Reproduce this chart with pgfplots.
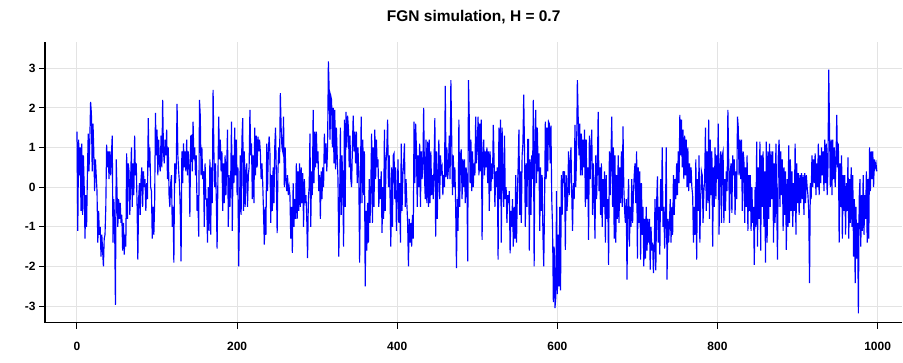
\documentclass[border=0pt]{standalone}
\usepackage{fontspec}
\setmainfont{Liberation Sans}
\usepackage{pgfplots}
\usepackage{pgfplotstable}
\pgfplotsset{compat=1.18}

% Fractional Gaussian noise sample path, one value per time step (t = 0 ... 999)
\pgfplotstableread[row sep=\\]{
v \\
1.4 \\ -1.1 \\ 1.2 \\ 0.3 \\ 1.0 \\ -0.6 \\ 1.1 \\ -0.7 \\ 0.8 \\ 0.0 \\
-1.3 \\ -0.2 \\ -1.0 \\ 0.3 \\ 1.35 \\ 0.4 \\ 1.2 \\ 2.15 \\ 1.85 \\ 0.4 \\
1.6 \\ 0.9 \\ -0.1 \\ 0.7 \\ 0.3 \\ -0.1 \\ -1.4 \\ -0.6 \\ -1.2 \\ -1.0 \\
-1.75 \\ -1.2 \\ -1.6 \\ -2.0 \\ -1.3 \\ -1.2 \\ -0.5 \\ 1.07 \\ 0.5 \\ 0.9 \\
0.2 \\ 0.9 \\ 0.3 \\ 0.8 \\ 1.3 \\ -1.4 \\ -0.3 \\ -0.9 \\ -2.97 \\ 0.7 \\
-0.1 \\ -1.0 \\ -0.3 \\ -0.8 \\ -0.4 \\ -0.9 \\ -0.7 \\ -1.6 \\ -0.9 \\ -1.7 \\
-1.2 \\ -1.5 \\ 0.85 \\ -0.8 \\ 0.6 \\ 0.4 \\ -0.7 \\ 0.2 \\ 1.0 \\ -0.5 \\
0.6 \\ -0.2 \\ 1.3 \\ 0.3 \\ 0.6 \\ -0.4 \\ -1.83 \\ -0.3 \\ 0.1 \\ -0.7 \\
0.2 \\ 0.5 \\ -0.5 \\ 0.4 \\ 0.0 \\ 0.2 \\ -0.6 \\ 0.1 \\ -0.3 \\ 1.74 \\
0.5 \\ 1.0 \\ 0.0 \\ -0.1 \\ -1.3 \\ -0.5 \\ -1.2 \\ -0.4 \\ 1.87 \\ 0.8 \\
1.45 \\ 0.3 \\ 1.2 \\ 0.6 \\ 0.4 \\ 1.3 \\ 0.5 \\ 2.2 \\ 0.9 \\ 0.6 \\
1.2 \\ 0.8 \\ 1.45 \\ 0.2 \\ 1.0 \\ -0.2 \\ -0.5 \\ 0.1 \\ 0.3 \\ -1.0 \\
-0.5 \\ -1.9 \\ 0.6 \\ 0.1 \\ 0.5 \\ 2.1 \\ 0.8 \\ 0.4 \\ 0.1 \\ -0.6 \\
-1.87 \\ 0.9 \\ 0.1 \\ 1.1 \\ 0.5 \\ 0.9 \\ 0.4 \\ 1.2 \\ 0.3 \\ 0.9 \\
0.5 \\ -0.75 \\ 1.28 \\ 1.3 \\ 0.4 \\ 1.65 \\ 0.7 \\ 1.0 \\ 0.3 \\ 0.8 \\
-0.6 \\ -0.2 \\ -1.25 \\ 2.2 \\ 1.8 \\ 0.3 \\ 1.0 \\ 0.2 \\ 0.4 \\ -1.0 \\
0.6 \\ -0.3 \\ -0.3 \\ -1.4 \\ 0.0 \\ -1.1 \\ 0.7 \\ -1.2 \\ 0.5 \\ -0.4 \\
2.45 \\ 0.9 \\ 0.0 \\ 0.6 \\ -0.3 \\ -1.55 \\ 0.2 \\ 1.78 \\ 0.7 \\ 1.2 \\
0.4 \\ 0.9 \\ -0.6 \\ 0.6 \\ -0.4 \\ 0.8 \\ -0.2 \\ 0.5 \\ 1.45 \\ -1.0 \\
0.3 \\ -0.5 \\ 0.2 \\ 1.65 \\ -1.1 \\ 0.8 \\ 0.1 \\ 1.5 \\ 0.3 \\ 1.2 \\
-0.2 \\ 0.5 \\ -2.0 \\ -0.5 \\ 0.8 \\ -0.7 \\ 1.2 \\ 1.74 \\ -0.6 \\ 0.9 \\
-0.5 \\ 0.4 \\ 0.6 \\ -0.5 \\ 0.3 \\ 0.5 \\ 1.95 \\ 0.8 \\ 1.1 \\ -0.3 \\
0.8 \\ -0.4 \\ 1.5 \\ 0.3 \\ 1.3 \\ 0.5 \\ 1.27 \\ 0.9 \\ 1.2 \\ 0.9 \\
0.2 \\ 0.6 \\ 0.1 \\ -0.65 \\ -1.45 \\ -0.5 \\ -1.2 \\ 1.1 \\ -0.1 \\ 0.9 \\
1.28 \\ 0.85 \\ -0.9 \\ 0.3 \\ -0.6 \\ 0.5 \\ -0.4 \\ 1.0 \\ 1.5 \\ 0.3 \\
-1.16 \\ 0.4 \\ 1.0 \\ 0.6 \\ 2.37 \\ 1.5 \\ 1.0 \\ 0.9 \\ 1.78 \\ 0.0 \\
1.0 \\ 0.2 \\ -0.1 \\ 0.3 \\ -0.2 \\ 0.0 \\ -0.2 \\ -1.3 \\ -0.5 \\ -1.66 \\
0.1 \\ -1.0 \\ -0.3 \\ -0.8 \\ 0.6 \\ -0.8 \\ 0.4 \\ -0.6 \\ 0.6 \\ -0.5 \\
0.5 \\ -0.4 \\ 0.35 \\ -1.0 \\ 0.2 \\ -0.4 \\ -0.2 \\ -0.8 \\ -1.79 \\ -0.3 \\
0.0 \\ 1.35 \\ -1.0 \\ 0.4 \\ -0.2 \\ 1.95 \\ 0.1 \\ 1.4 \\ 0.5 \\ 1.4 \\
0.6 \\ 0.9 \\ -0.1 \\ 0.3 \\ -0.8 \\ 0.4 \\ -0.3 \\ 0.5 \\ 0.0 \\ 1.35 \\
0.6 \\ 1.1 \\ 0.4 \\ 1.0 \\ 3.17 \\ 2.45 \\ 1.2 \\ 2.3 \\ 2.2 \\ 1.0 \\
2.0 \\ 0.6 \\ 1.95 \\ 0.45 \\ 1.5 \\ 0.8 \\ 0.2 \\ -1.75 \\ -0.5 \\ 1.5 \\
-0.7 \\ 0.8 \\ 0.1 \\ -1.5 \\ 1.7 \\ -0.5 \\ 1.9 \\ 1.0 \\ 1.8 \\ 1.5 \\
0.5 \\ 1.3 \\ 0.2 \\ 0.0 \\ 1.0 \\ 1.8 \\ 0.9 \\ 1.4 \\ 0.6 \\ 1.4 \\
0.1 \\ 1.0 \\ 0.3 \\ -1.9 \\ 0.2 \\ 1.78 \\ -0.4 \\ 1.2 \\ -0.2 \\ 0.9 \\
-2.5 \\ -0.6 \\ -1.6 \\ -0.4 \\ -1.4 \\ 0.2 \\ -0.9 \\ 0.0 \\ 1.35 \\ -0.9 \\
1.0 \\ -0.5 \\ 1.45 \\ 0.2 \\ 1.2 \\ 0.5 \\ 0.7 \\ -0.5 \\ 0.2 \\ -0.3 \\
0.4 \\ -1.15 \\ 0.0 \\ -0.8 \\ 1.45 \\ -0.6 \\ 0.6 \\ 1.0 \\ 1.7 \\ 0.0 \\
0.8 \\ -0.2 \\ -1.5 \\ 0.5 \\ -1.0 \\ 0.8 \\ 0.85 \\ -0.3 \\ 0.5 \\ -1.1 \\
-0.2 \\ 0.7 \\ -0.9 \\ 0.1 \\ -1.4 \\ 1.1 \\ -0.6 \\ 0.3 \\ 0.6 \\ 1.1 \\
-0.5 \\ 0.2 \\ -0.4 \\ -0.9 \\ -2.0 \\ -0.8 \\ -1.4 \\ -0.9 \\ -1.5 \\ -0.7 \\
-1.3 \\ 1.65 \\ 0.1 \\ 1.6 \\ 0.95 \\ -0.5 \\ 0.8 \\ 0.0 \\ 1.1 \\ -0.5 \\
0.9 \\ 0.2 \\ 0.5 \\ 2.0 \\ 0.3 \\ -0.3 \\ 1.2 \\ -0.4 \\ 1.15 \\ -0.5 \\
1.2 \\ -0.4 \\ 0.9 \\ -0.2 \\ 0.3 \\ -0.3 \\ 0.6 \\ 1.74 \\ -1.25 \\ 0.9 \\
-0.8 \\ 0.3 \\ 1.2 \\ -0.3 \\ 0.8 \\ 0.4 \\ 0.5 \\ -0.2 \\ 0.3 \\ 0.0 \\
2.55 \\ 0.25 \\ 1.0 \\ 0.2 \\ 0.5 \\ 1.3 \\ 0.2 \\ 2.7 \\ 1.3 \\ -0.2 \\
0.8 \\ 0.0 \\ 0.5 \\ -0.5 \\ -2.04 \\ -0.3 \\ -1.1 \\ 1.7 \\ -0.5 \\ 0.8 \\
0.95 \\ -0.3 \\ 0.7 \\ 0.0 \\ 0.7 \\ -0.4 \\ 0.5 \\ 0.2 \\ -1.87 \\ 2.7 \\
1.7 \\ 0.1 \\ 1.2 \\ -0.1 \\ 0.9 \\ 0.0 \\ 0.6 \\ 0.3 \\ 1.78 \\ 0.6 \\
1.0 \\ 1.78 \\ 0.3 \\ 1.6 \\ 0.4 \\ 1.7 \\ -1.33 \\ 0.8 \\ 1.2 \\ 0.3 \\
0.9 \\ 0.5 \\ 1.0 \\ 0.1 \\ 0.9 \\ -0.6 \\ 0.9 \\ -0.1 \\ 0.6 \\ 0.2 \\
1.57 \\ 0.65 \\ -0.5 \\ 0.4 \\ 0.0 \\ 0.5 \\ -1.83 \\ 1.5 \\ -0.3 \\ 1.7 \\
-1.4 \\ 1.5 \\ 0.2 \\ -0.5 \\ 1.3 \\ -0.3 \\ 0.0 \\ -0.9 \\ -0.2 \\ -0.4 \\
-0.1 \\ -1.67 \\ -0.6 \\ -1.0 \\ -0.3 \\ -1.5 \\ -0.5 \\ -1.3 \\ 0.3 \\ -1.4 \\
-0.2 \\ 0.5 \\ 1.45 \\ -0.7 \\ 0.4 \\ -0.9 \\ 0.8 \\ 1.1 \\ 2.33 \\ 0.9 \\
-1.0 \\ 0.6 \\ -0.5 \\ 1.2 \\ 1.2 \\ -1.6 \\ 0.7 \\ -0.7 \\ 0.8 \\ 0.2 \\
2.2 \\ -2.0 \\ 1.0 \\ 1.95 \\ 0.1 \\ 1.5 \\ 0.4 \\ 0.85 \\ -1.1 \\ 0.5 \\
-0.6 \\ 0.3 \\ -1.2 \\ -2.0 \\ -0.5 \\ 1.65 \\ 0.2 \\ 1.5 \\ 0.4 \\ 1.65 \\
1.6 \\ 0.6 \\ 1.55 \\ -0.3 \\ -1.0 \\ -2.9 \\ -1.5 \\ -3.05 \\ -2.8 \\ -0.1 \\
-2.7 \\ -1.2 \\ -2.5 \\ -0.5 \\ -2.6 \\ 0.3 \\ -0.7 \\ 0.4 \\ 0.1 \\ 0.4 \\
-1.58 \\ 0.3 \\ -0.6 \\ -0.2 \\ 0.9 \\ -0.2 \\ 0.6 \\ 1.0 \\ -0.2 \\ -1.1 \\
0.1 \\ -0.3 \\ 1.57 \\ 0.0 \\ 0.8 \\ 2.7 \\ 1.78 \\ 0.8 \\ 1.6 \\ 0.3 \\
1.35 \\ 0.3 \\ 1.2 \\ 0.5 \\ 1.45 \\ -0.5 \\ 1.2 \\ -0.3 \\ 0.5 \\ -1.33 \\
1.3 \\ 0.2 \\ 1.0 \\ 1.45 \\ -0.7 \\ 0.6 \\ -0.2 \\ -1.3 \\ 0.8 \\ -0.3 \\
0.5 \\ 1.9 \\ -0.1 \\ 0.5 \\ -0.7 \\ 0.6 \\ -1.0 \\ 0.2 \\ -0.5 \\ 0.4 \\
-1.4 \\ 0.3 \\ -0.8 \\ -0.3 \\ -1.96 \\ 0.9 \\ -0.2 \\ 0.8 \\ 1.78 \\ -0.5 \\
1.0 \\ -1.3 \\ 0.8 \\ -1.4 \\ 0.3 \\ -0.8 \\ 0.8 \\ -0.9 \\ 0.5 \\ -0.4 \\
0.9 \\ -0.5 \\ 1.53 \\ 0.0 \\ -0.6 \\ -0.9 \\ -0.3 \\ -2.33 \\ -0.5 \\ 0.2 \\
-1.5 \\ -0.5 \\ -1.0 \\ 0.2 \\ -0.9 \\ -0.2 \\ 0.3 \\ 0.6 \\ -0.4 \\ 0.9 \\
-1.8 \\ 0.5 \\ -0.9 \\ 0.4 \\ -1.83 \\ 0.1 \\ -1.2 \\ -0.5 \\ -2.0 \\ -0.8 \\
-1.8 \\ -0.5 \\ -1.6 \\ -0.8 \\ -1.4 \\ -0.8 \\ -2.08 \\ -1.0 \\ -1.6 \\ -1.4 \\
-2.17 \\ -1.6 \\ -0.3 \\ -2.1 \\ -0.4 \\ 0.27 \\ -1.4 \\ -0.5 \\ -1.7 \\ 0.2 \\
-0.6 \\ 1.0 \\ -1.0 \\ -0.5 \\ -1.55 \\ -0.8 \\ 1.0 \\ -2.33 \\ -0.8 \\ -1.4 \\
-0.9 \\ -0.3 \\ -1.4 \\ -0.5 \\ -1.2 \\ 0.3 \\ -0.7 \\ 0.2 \\ -0.3 \\ 0.6 \\
-0.2 \\ 0.9 \\ 0.1 \\ 1.82 \\ 0.8 \\ 1.7 \\ 0.5 \\ 1.45 \\ 0.2 \\ 1.3 \\
0.3 \\ 1.2 \\ 0.0 \\ 1.0 \\ -0.1 \\ 0.6 \\ 0.1 \\ 0.5 \\ 0.0 \\ -0.2 \\
-1.4 \\ -0.5 \\ -1.2 \\ 0.7 \\ -1.83 \\ 0.2 \\ -0.6 \\ 0.8 \\ -1.4 \\ -0.3 \\
0.4 \\ 0.3 \\ -0.9 \\ -0.1 \\ 0.2 \\ 1.5 \\ -0.6 \\ 0.9 \\ -0.4 \\ 1.7 \\
-0.8 \\ 1.2 \\ -0.2 \\ 0.9 \\ -1.5 \\ 0.5 \\ -0.5 \\ 1.0 \\ -0.3 \\ 0.8 \\
0.2 \\ 1.6 \\ -1.2 \\ 0.5 \\ 0.9 \\ -0.9 \\ 0.8 \\ 0.9 \\ -0.9 \\ 0.2 \\
-0.6 \\ 0.4 \\ -0.1 \\ 1.95 \\ 0.7 \\ -0.9 \\ 0.4 \\ 0.6 \\ -0.65 \\ 0.8 \\
0.3 \\ 0.7 \\ -0.7 \\ 0.4 \\ -0.3 \\ 1.78 \\ 1.5 \\ 0.3 \\ 1.2 \\ 0.2 \\
1.2 \\ -0.6 \\ 0.9 \\ 0.7 \\ -0.9 \\ 0.5 \\ -0.5 \\ 0.8 \\ -1.1 \\ 0.3 \\
-0.6 \\ 0.3 \\ -1.1 \\ 0.0 \\ -0.9 \\ -0.5 \\ -1.96 \\ 0.0 \\ -1.0 \\ 1.15 \\
-1.5 \\ 0.5 \\ -0.8 \\ 1.15 \\ -1.6 \\ 0.8 \\ -0.5 \\ 0.9 \\ -1.0 \\ 0.4 \\
-1.9 \\ 1.15 \\ -1.4 \\ 0.9 \\ -0.8 \\ 1.1 \\ -0.5 \\ 0.9 \\ -0.3 \\ 0.9 \\
-1.4 \\ 0.6 \\ -0.9 \\ 1.1 \\ -0.5 \\ -1.83 \\ 0.8 \\ 1.2 \\ -0.5 \\ 0.9 \\
-0.2 \\ 0.7 \\ -1.1 \\ 0.5 \\ -0.7 \\ 0.4 \\ -1.58 \\ 0.2 \\ -1.0 \\ 1.05 \\
-0.9 \\ 0.7 \\ -0.6 \\ 0.4 \\ -1.0 \\ 0.1 \\ -0.6 \\ 1.1 \\ -1.2 \\ 0.6 \\
-0.4 \\ 0.35 \\ -0.7 \\ 0.3 \\ -0.4 \\ 0.35 \\ -0.3 \\ 0.3 \\ -0.7 \\ 0.35 \\
-0.4 \\ 0.3 \\ 0.0 \\ -0.2 \\ -0.6 \\ -2.42 \\ 0.1 \\ -0.3 \\ 0.8 \\ 0.0 \\
0.7 \\ 0.1 \\ 0.85 \\ -0.2 \\ 0.6 \\ 0.0 \\ 1.1 \\ -0.2 \\ 0.8 \\ 0.1 \\
1.0 \\ 0.3 \\ 0.9 \\ -0.1 \\ 1.2 \\ 0.1 \\ 1.1 \\ -0.2 \\ 0.5 \\ 2.96 \\
1.35 \\ 0.0 \\ 1.2 \\ -0.2 \\ 1.2 \\ 0.2 \\ 1.0 \\ 0.0 \\ 0.6 \\ 1.82 \\
0.5 \\ 1.1 \\ -1.4 \\ 0.6 \\ -0.5 \\ 0.8 \\ -1.3 \\ 0.3 \\ -0.6 \\ 0.3 \\
-1.2 \\ 0.1 \\ -0.6 \\ 0.75 \\ -1.3 \\ 0.2 \\ -0.9 \\ 0.5 \\ -1.0 \\ 0.3 \\
-1.75 \\ -0.3 \\ -2.42 \\ -0.5 \\ -1.8 \\ -0.9 \\ -3.18 \\ -0.3 \\ 0.2 \\ -1.5 \\
-0.2 \\ -1.1 \\ 0.3 \\ -1.2 \\ -0.2 \\ -0.8 \\ 0.4 \\ -1.4 \\ 0.2 \\ -1.3 \\
1.0 \\ -0.1 \\ 0.9 \\ 0.2 \\ 0.9 \\ 0.0 \\ 0.7 \\ 0.5 \\ 0.6 \\ 0.4 \\
}\fgn

\begin{document}
\begin{tikzpicture}
\begin{axis}[
  scale only axis,
  width=858pt, height=281pt,
  xmin=-40, xmax=1031,
  ymin=-3.42, ymax=3.66,
  axis x line*=bottom,
  axis y line*=left,
  axis line style={-, black, line width=1.2pt},
  xtick={0,200,400,600,800,1000},
  ytick={-3,-2,-1,0,1,2,3},
  tick align=outside,
  major tick length=6pt,
  tick style={black, line width=1pt},
  grid=major,
  major grid style={draw=black!11, line width=1pt},
  tick label style={font=\fontsize{12}{14}\selectfont\bfseries},
  /pgf/number format/assume math mode=true,
  /pgf/number format/1000 sep={},
  xticklabel style={yshift=-10pt},
  yticklabel style={xshift=0pt},
  title={FGN simulation, H = 0.7},
  title style={font=\fontsize{15.5}{17}\selectfont\bfseries,
    at={(0.5,1)}, anchor=base, yshift=14pt},
]
\addplot[draw={rgb,255:red,0;green,0;blue,255}, line width=1.15pt, mark=none]
  table[x expr=\coordindex, y=v] {\fgn};
\end{axis}
\path ([xshift=-45pt,yshift=-40pt]current axis.south west)
  rectangle ([yshift=42pt]current axis.north east);
\end{tikzpicture}
\end{document}
